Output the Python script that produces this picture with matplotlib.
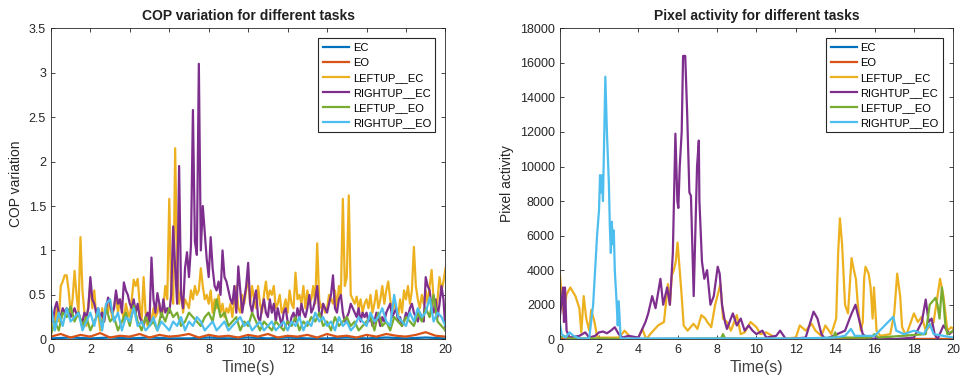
import numpy as np
import matplotlib
matplotlib.use("Agg")
import matplotlib.pyplot as plt

plt.rcParams['font.family'] = ['Liberation Sans', 'DejaVu Sans']

# MATLAB default colour order
colors = ['#0072BD', '#D95319', '#EDB120', '#7E2F8E', '#77AC30', '#4DBEEE']
labels = ['EC', 'EO', 'LEFTUP__EC', 'RIGHTUP__EC', 'LEFTUP__EO', 'RIGHTUP__EO']

# ---- COP variation (left), sampled every 0.1 s / 0.2 s / 0.5 s / 1 s ----
t_fine = np.round(np.arange(0, 20.01, 0.1), 2)
t_mid = np.round(np.arange(0, 20.01, 0.2), 2)
t_coarse = np.round(np.arange(0, 20.01, 0.5), 2)
t_sec = np.arange(0, 21, 1)

cop_ec = [0.01, 0.02, 0.01, 0.02, 0.01, 0.02, 0.01, 0.01, 0.02, 0.01, 0.02,
          0.01, 0.02, 0.01, 0.01, 0.02, 0.01, 0.02, 0.01, 0.02, 0.01]
cop_eo = [0.03, 0.06, 0.02, 0.05, 0.03, 0.07, 0.02, 0.04, 0.03, 0.06, 0.02,
          0.05, 0.03, 0.04, 0.06, 0.02, 0.05, 0.03, 0.04, 0.02, 0.05, 0.03,
          0.06, 0.02, 0.04, 0.03, 0.05, 0.02, 0.06, 0.03, 0.04, 0.02, 0.05,
          0.03, 0.06, 0.04, 0.03, 0.05, 0.08, 0.04, 0.03]
cop_leftup_ec = [
    0.10, 0.25, 0.15, 0.35, 0.20, 0.60, 0.65, 0.72, 0.72, 0.55,
    0.30, 0.45, 0.77, 0.50, 0.30, 1.15, 0.55, 0.30, 0.15, 0.40,
    0.62, 0.35, 0.55, 0.25, 0.30, 0.10, 0.35, 0.20, 0.40, 0.30,
    0.45, 0.25, 0.35, 0.50, 0.30, 0.45, 0.35, 0.20, 0.40, 0.30,
    0.25, 0.45, 0.67, 0.60, 0.68, 0.40, 0.20, 0.70, 0.30, 0.15,
    0.30, 0.20, 0.35, 0.25, 0.30, 0.40, 0.25, 0.35, 0.60, 0.45,
    1.58, 0.50, 0.40, 2.15, 0.80, 0.40, 0.55, 0.30, 0.45, 0.40,
    0.35, 0.55, 0.45, 0.60, 0.50, 0.55, 0.80, 0.60, 0.45, 0.50,
    0.40, 0.55, 0.30, 0.45, 0.35, 0.50, 0.30, 0.40, 0.25, 0.35,
    0.30, 0.40, 0.25, 0.45, 0.60, 0.35, 0.30, 0.50, 0.40, 0.55,
    0.70, 0.40, 0.60, 0.45, 0.35, 0.60, 0.40, 0.30, 0.50, 0.65,
    0.45, 0.55, 0.50, 0.60, 0.35, 0.40, 0.50, 0.30, 0.35, 0.45,
    0.30, 0.55, 0.40, 0.35, 0.75, 0.45, 0.50, 0.40, 0.60, 0.35,
    0.55, 0.40, 0.45, 0.60, 0.40, 1.08, 0.45, 0.35, 0.40, 0.30,
    0.35, 0.50, 0.45, 0.40, 0.55, 0.35, 0.60, 0.50, 1.58, 0.60,
    0.70, 1.62, 0.50, 0.45, 0.40, 0.48, 0.35, 0.45, 0.30, 0.40,
    0.45, 0.35, 0.50, 0.30, 0.40, 0.55, 0.35, 0.45, 0.60, 0.40,
    0.55, 0.65, 0.45, 0.30, 0.40, 0.35, 0.25, 0.45, 0.30, 0.55,
    0.45, 0.60, 0.40, 0.55, 1.04, 0.60, 0.45, 0.35, 0.50, 0.40,
    0.55, 0.40, 0.60, 0.78, 0.45, 0.30, 0.45, 0.70, 0.55, 0.65,
    0.80]
cop_rightup_ec = [
    0.30, 0.20, 0.35, 0.42, 0.30, 0.25, 0.35, 0.30, 0.35, 0.32,
    0.25, 0.30, 0.35, 0.28, 0.30, 0.22, 0.20, 0.30, 0.25, 0.35,
    0.70, 0.45, 0.40, 0.30, 0.35, 0.25, 0.30, 0.20, 0.35, 0.47,
    0.40, 0.30, 0.35, 0.55, 0.40, 0.45, 0.30, 0.64, 0.55, 0.50,
    0.40, 0.35, 0.45, 0.30, 0.40, 0.25, 0.20, 0.15, 0.25, 0.30,
    0.20, 0.92, 0.45, 0.30, 0.52, 0.40, 0.25, 0.45, 0.30, 0.35,
    0.30, 0.50, 1.27, 0.80, 0.40, 1.95, 0.50, 0.35, 0.80, 0.98,
    0.70, 1.05, 2.58, 1.10, 0.95, 3.10, 1.00, 1.50, 1.20, 0.90,
    0.70, 1.15, 0.80, 0.60, 0.55, 0.65, 0.50, 1.00, 0.70, 0.65,
    0.55, 0.45, 0.40, 0.60, 0.30, 0.82, 0.55, 0.30, 0.45, 0.60,
    0.86, 0.40, 0.30, 0.45, 0.55, 0.25, 0.20, 0.35, 0.45, 0.30,
    0.25, 0.45, 0.30, 0.40, 0.20, 0.35, 0.25, 0.15, 0.30, 0.35,
    0.20, 0.15, 0.25, 0.30, 0.20, 0.35, 0.25, 0.40, 0.30, 0.25,
    0.35, 0.50, 0.30, 0.35, 0.45, 0.60, 0.30, 0.25, 0.40, 0.35,
    0.30, 0.40, 0.50, 0.72, 0.35, 0.30, 0.45, 0.50, 0.30, 0.20,
    0.25, 0.30, 0.40, 0.35, 0.30, 0.25, 0.35, 0.20, 0.30, 0.25,
    0.30, 0.20, 0.25, 0.15, 0.20, 0.30, 0.25, 0.15, 0.25, 0.20,
    0.30, 0.35, 0.40, 0.25, 0.30, 0.35, 0.20, 0.25, 0.15, 0.20,
    0.30, 0.25, 0.35, 0.40, 0.30, 0.25, 0.20, 0.30, 0.25, 0.20,
    0.70, 0.60, 0.55, 0.35, 0.30, 0.45, 0.25, 0.40, 0.60, 0.45,
    0.10]
cop_leftup_eo = [
    0.05, 0.20, 0.10, 0.30, 0.25, 0.37, 0.20, 0.30, 0.15, 0.25,
    0.10, 0.20, 0.30, 0.15, 0.35, 0.20, 0.25, 0.10, 0.20, 0.30,
    0.15, 0.38, 0.20, 0.10, 0.25, 0.15, 0.20, 0.10, 0.30, 0.20,
    0.35, 0.25, 0.30, 0.15, 0.20, 0.30, 0.25, 0.20, 0.15, 0.25,
    0.30, 0.20, 0.45, 0.25, 0.30, 0.15, 0.20, 0.25, 0.10, 0.20,
    0.15, 0.30, 0.20, 0.10, 0.20, 0.15, 0.10, 0.20, 0.15, 0.10,
    0.20, 0.15, 0.25, 0.10, 0.20, 0.15, 0.25, 0.20, 0.30, 0.15,
    0.20, 0.10, 0.25, 0.15, 0.20, 0.25, 0.15, 0.20, 0.10, 0.15,
    0.20, 0.25, 0.10, 0.30, 0.15, 0.20, 0.10, 0.25, 0.20, 0.15,
    0.25, 0.20, 0.15, 0.30, 0.20, 0.35, 0.25, 0.50, 0.20, 0.15,
    0.10]
cop_rightup_eo = [
    0.38, 0.10, 0.30, 0.15, 0.35, 0.20, 0.25, 0.30, 0.10, 0.20,
    0.30, 0.15, 0.35, 0.10, 0.40, 0.45, 0.20, 0.30, 0.10, 0.25,
    0.20, 0.35, 0.15, 0.20, 0.10, 0.15, 0.25, 0.10, 0.20, 0.15,
    0.10, 0.20, 0.15, 0.25, 0.10, 0.20, 0.15, 0.25, 0.20, 0.10,
    0.15, 0.20, 0.10, 0.15, 0.20, 0.10, 0.15, 0.20, 0.25, 0.15,
    0.20, 0.10, 0.15, 0.20, 0.10, 0.15, 0.20, 0.10, 0.15, 0.20,
    0.10, 0.20, 0.15, 0.25, 0.10, 0.20, 0.15, 0.30, 0.20, 0.25,
    0.15, 0.20, 0.10, 0.25, 0.15, 0.20, 0.10, 0.15, 0.25, 0.20,
    0.15, 0.30, 0.20, 0.25, 0.35, 0.20, 0.15, 0.50, 0.25, 0.20,
    0.15, 0.30, 0.20, 0.35, 0.25, 0.30, 0.47, 0.20, 0.30, 0.25,
    0.15]

# ---- Pixel activity (right), (time, value) pairs ----
px_ec = [(0, 0), (20, 0)]
px_eo = [(0, 0), (20, 0)]
px_leftup_ec = [
    (0, 3900), (0.1, 2500), (0.2, 1500), (0.35, 2600), (0.54, 3000),
    (0.8, 2500), (1.0, 1800), (1.1, 400), (1.22, 2500), (1.35, 1200),
    (1.5, 500), (1.6, 1700), (1.75, 1100), (1.9, 200), (2.0, 100),
    (2.5, 100), (3.0, 100), (3.3, 500), (3.6, 100), (4.0, 100), (4.2, 600),
    (4.4, 0), (4.6, 300), (5.0, 800), (5.3, 1000), (5.5, 3200), (5.6, 2000),
    (5.7, 3700), (5.8, 4000), (5.9, 4500), (5.99, 5600), (6.1, 4000),
    (6.2, 2500), (6.3, 800), (6.5, 500), (6.8, 900), (7.0, 600),
    (7.2, 1400), (7.4, 1200), (7.5, 1000), (7.7, 700), (7.9, 2000),
    (8.17, 3200), (8.3, 1200), (8.5, 1000), (8.7, 500), (9.0, 1400),
    (9.2, 300), (9.4, 400), (9.7, 1000), (10.0, 700), (10.2, 300),
    (10.5, 400), (10.8, 200), (11.0, 0), (12.0, 100), (12.2, 800),
    (12.5, 500), (12.8, 900), (13.0, 500), (13.3, 200), (13.5, 800),
    (13.8, 300), (14.05, 1200), (14.15, 5000), (14.24, 7000),
    (14.35, 5500), (14.5, 2000), (14.65, 1500), (14.83, 4700),
    (14.95, 4000), (15.05, 3500), (15.15, 2000), (15.3, 500), (15.4, 1000),
    (15.47, 3500), (15.54, 4200), (15.7, 3800), (15.8, 3000), (15.9, 1200),
    (15.97, 3000), (16.1, 500), (16.3, 200), (16.8, 300), (17.0, 1500),
    (17.15, 3800), (17.3, 2500), (17.4, 700), (17.6, 200), (18.0, 1500),
    (18.2, 1000), (18.4, 1300), (18.6, 500), (19.0, 1000), (19.2, 2500),
    (19.33, 3500), (19.5, 2500), (19.7, 500), (19.9, 700), (20.0, 600)]
px_rightup_ec = [
    (0, 1200), (0.17, 3000), (0.22, 1000), (0.27, 3000), (0.35, 500),
    (0.5, 100), (1.0, 200), (1.3, 400), (1.5, 100), (1.8, 200), (2.0, 400),
    (2.2, 450), (2.4, 350), (2.6, 500), (2.8, 700), (3.0, 300), (3.2, 100),
    (3.5, 200), (4.0, 100), (4.36, 1000), (4.5, 1500), (4.7, 2500),
    (4.87, 1800), (5.12, 3500), (5.26, 2000), (5.46, 3000), (5.6, 2000),
    (5.75, 5000), (5.88, 11900), (5.98, 8000), (6.03, 7600), (6.1, 10000),
    (6.2, 12000), (6.27, 16400), (6.38, 16400), (6.48, 13000),
    (6.59, 8500), (6.67, 8300), (6.81, 2500), (6.98, 10000),
    (7.07, 11500), (7.1, 8000), (7.23, 4500), (7.35, 3500), (7.49, 4000),
    (7.66, 2000), (7.83, 2500), (8.03, 4200), (8.13, 3800), (8.25, 2000),
    (8.4, 1000), (8.5, 600), (8.8, 1500), (9.0, 800), (9.2, 1200),
    (9.4, 500), (9.6, 800), (9.8, 500), (10.0, 300), (10.3, 500),
    (10.5, 100), (11.0, 200), (11.2, 500), (11.5, 0), (12.5, 100),
    (12.9, 1600), (13.1, 1200), (13.3, 300), (13.5, 0), (14.5, 500),
    (14.8, 1400), (15.03, 2000), (15.2, 1200), (15.4, 300), (15.7, 0),
    (16.5, 100), (17.0, 0), (18.0, 100), (18.4, 1000), (18.6, 2300),
    (18.75, 1000), (18.9, 1200), (19.05, 300), (19.2, 0), (19.5, 800),
    (19.8, 300), (20.0, 500)]
px_leftup_eo = [
    (0, 50), (0.2, 200), (0.5, 50), (2.0, 50), (4.0, 0), (8.2, 50),
    (8.3, 300), (8.4, 50), (12.0, 0), (13.9, 100), (14.0, 400),
    (14.1, 100), (15.8, 100), (16.0, 300), (16.2, 100), (18.6, 300),
    (18.8, 2000), (19.1, 2400), (19.2, 2000), (19.3, 1200), (19.42, 3000),
    (19.5, 2200), (19.6, 800), (19.7, 300), (20.0, 500)]
px_rightup_eo = [
    (0, 1000), (0.1, 300), (0.3, 100), (0.5, 400), (0.7, 200), (1.0, 50),
    (1.5, 50), (1.7, 2000), (1.8, 4000), (1.9, 6000), (2.0, 7500),
    (2.05, 9500), (2.1, 8500), (2.15, 9500), (2.2, 8000), (2.32, 15200),
    (2.4, 12000), (2.5, 9000), (2.55, 6500), (2.6, 5000), (2.65, 6800),
    (2.7, 5500), (2.75, 6300), (2.8, 4000), (2.9, 2000), (2.95, 800),
    (3.0, 2200), (3.1, 50), (4.0, 50), (6.0, 50), (8.0, 50), (10.0, 50),
    (12.0, 50), (14.0, 100), (14.5, 200), (14.8, 600), (15.0, 200),
    (16.0, 200), (16.95, 1300), (17.1, 500), (17.5, 300), (18.0, 500),
    (18.5, 300), (18.8, 900), (19.0, 300), (20.0, 100)]

fig = plt.figure(figsize=(9.6, 3.77), dpi=100)
ax1 = fig.add_axes([0.053, 0.1, 0.411, 0.825])
ax2 = fig.add_axes([0.583, 0.1, 0.410, 0.825])

left_series = [(t_sec, cop_ec), (t_coarse, cop_eo), (t_fine, cop_leftup_ec),
               (t_fine, cop_rightup_ec), (t_mid, cop_leftup_eo),
               (t_mid, cop_rightup_eo)]
for (t, v), c, lab in zip(left_series, colors, labels):
    ax1.plot(t, v, color=c, lw=1.6, label=lab)

right_series = [px_ec, px_eo, px_leftup_ec, px_rightup_ec, px_leftup_eo,
                px_rightup_eo]
for s, c, lab in zip(right_series, colors, labels):
    t, v = zip(*s)
    ax2.plot(t, v, color=c, lw=1.6, label=lab)

ax1.set_ylim(0, 3.5)
ax1.set_yticks(np.arange(0, 3.51, 0.5))
ax1.set_yticklabels(['0', '0.5', '1', '1.5', '2', '2.5', '3', '3.5'])
ax1.set_title('COP variation for different tasks', fontsize=10,
              fontweight='bold', color='#202020')
ax1.set_ylabel('COP variation', fontsize=10, color='#262626')

ax2.set_ylim(0, 18000)
ax2.set_yticks(np.arange(0, 18001, 2000))
ax2.set_title('Pixel activity for different tasks', fontsize=10,
              fontweight='bold', color='#202020')
ax2.set_ylabel('Pixel activity', fontsize=10, color='#262626')

for ax in (ax1, ax2):
    ax.set_xlim(0, 20)
    ax.set_xticks(np.arange(0, 21, 2))
    ax.set_xlabel('Time(s)', fontsize=11.5, color='#404040', labelpad=3)
    ax.tick_params(direction='in', top=True, right=True, labelsize=9,
                   colors='#262626', length=3, width=0.6)
    for sp in ax.spines.values():
        sp.set_color('#262626')
        sp.set_linewidth(0.6)
    leg = ax.legend(loc='upper right', fontsize=8, handlelength=2.4,
                    fancybox=False, framealpha=1, edgecolor='#262626',
                    borderaxespad=0.9, labelspacing=0.45, handletextpad=0.3,
                    borderpad=0.4)
    leg.get_frame().set_linewidth(0.8)

fig.savefig('out.png', dpi=100)
